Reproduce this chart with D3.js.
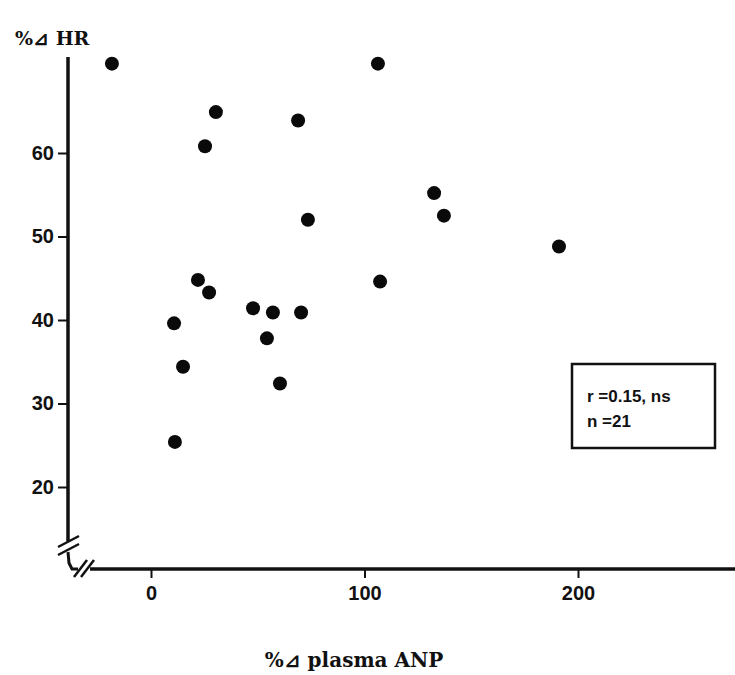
<!DOCTYPE html>
<html>
<head>
<meta charset="utf-8">
<script src="https://cdn.jsdelivr.net/npm/d3@7"></script>
<style>
  html, body { margin: 0; padding: 0; background: #fff; }
  svg { display: block; }
</style>
</head>
<body>
<svg id="chart" width="735" height="675"></svg>
<script>
// Data
const anpChange = [-18.3, 30.4, 25.3, 68.9, 106.3, 73.5, 132.6, 137.2, 191.1, 22.0, 27.2, 107.3, 10.8, 47.8, 57.1, 70.3, 54.3, 15.0, 60.4, 11.2];
const hrChange  = [70.7, 64.9, 60.8, 63.9, 70.7, 52.0, 55.2, 52.5, 48.8, 44.8, 43.3, 44.6, 39.6, 41.4, 40.9, 40.9, 37.8, 34.4, 32.4, 25.4];
const xTicks = [0, 100, 200];
const yTicks = [20, 30, 40, 50, 60];
const xTitle = "%⊿ plasma ANP";
const yTitle = "%⊿ HR";
const statLines = ["r =0.15, ns", "n =21"];

const svg = d3.select("#chart");
const x = d3.scaleLinear().domain([0, 200]).range([151, 578]);
const y = d3.scaleLinear().domain([20, 60]).range([487, 153]);

const axisX0 = 68;   // y-axis line position
const axisY0 = 569;  // x-axis line position
const numFont = "'Liberation Sans', Arial, sans-serif";
const serifFont = "'DejaVu Serif', 'Liberation Serif', serif";

// Y axis ticks & labels
const yAxis = d3.axisLeft(y).tickValues(yTicks).tickSize(10).tickPadding(4);
const gy = svg.append("g").attr("transform", `translate(${axisX0},0)`).call(yAxis);
gy.select(".domain").remove();
gy.selectAll(".tick line").attr("stroke", "#111").attr("stroke-width", 2);
gy.selectAll(".tick text").attr("font-family", numFont).attr("font-weight", "bold")
  .attr("font-size", 20).attr("fill", "#111");

// X axis ticks & labels
const xAxis = d3.axisBottom(x).tickValues(xTicks).tickSize(9).tickPadding(8);
const gx = svg.append("g").attr("transform", `translate(0,${axisY0})`).call(xAxis);
gx.select(".domain").remove();
gx.selectAll(".tick line").attr("stroke", "#111").attr("stroke-width", 2);
gx.selectAll(".tick text").attr("font-family", numFont).attr("font-weight", "bold")
  .attr("font-size", 20).attr("fill", "#111");

// Axis lines with breaks
const axisG = svg.append("g").attr("stroke", "#111").attr("fill", "none").attr("stroke-width", 3.5);
axisG.append("path").attr("d", `M${axisX0},57 L${axisX0},541`);
axisG.append("path").attr("d", `M${axisX0},552 L${axisX0 + 1},563 L${axisX0 + 4},${axisY0} L78,${axisY0}`).attr("stroke-width", 3);
axisG.append("path").attr("d", `M90,${axisY0} L735,${axisY0}`);
// break marks on y axis
const brk = svg.append("g").attr("stroke", "#111").attr("stroke-width", 2.5);
brk.append("line").attr("x1", 58).attr("y1", 547).attr("x2", 79).attr("y2", 536);
brk.append("line").attr("x1", 58).attr("y1", 555).attr("x2", 79).attr("y2", 544);
// break marks on x axis
brk.append("line").attr("x1", 74).attr("y1", 577).attr("x2", 87).attr("y2", 560);
brk.append("line").attr("x1", 81).attr("y1", 577).attr("x2", 94).attr("y2", 560);

// Points
svg.append("g").selectAll("circle")
  .data(anpChange.map((v, i) => [v, hrChange[i]]))
  .join("circle")
  .attr("cx", d => x(d[0]))
  .attr("cy", d => y(d[1]))
  .attr("r", 7)
  .attr("fill", "#0a0a0a");

// Axis titles
svg.append("text").attr("x", 15).attr("y", 45).text(yTitle)
  .attr("font-family", serifFont).attr("font-weight", "bold").attr("font-size", 19).attr("fill", "#111");
svg.append("text").attr("x", 354).attr("y", 667).attr("text-anchor", "middle").text(xTitle)
  .attr("font-family", serifFont).attr("font-weight", "bold").attr("font-size", 20).attr("fill", "#111");

// Stats box
svg.append("rect").attr("x", 572).attr("y", 364).attr("width", 143).attr("height", 84)
  .attr("fill", "none").attr("stroke", "#111").attr("stroke-width", 2.5);
svg.append("g").selectAll("text").data(statLines).join("text")
  .attr("x", 587).attr("y", (d, i) => 402 + i * 25)
  .text(d => d)
  .attr("font-family", numFont).attr("font-weight", "bold").attr("font-size", 17).attr("fill", "#111");
</script>
</body>
</html>
